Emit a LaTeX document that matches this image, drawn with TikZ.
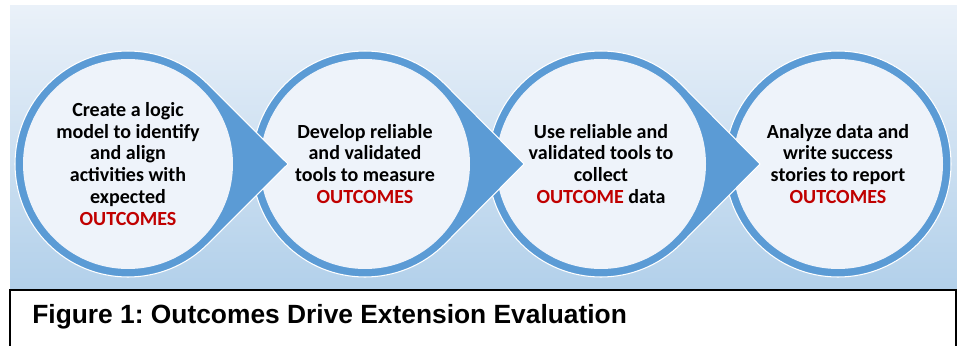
\documentclass[tikz,border=0pt]{standalone}
\usepackage{fontspec}
\setmainfont{Carlito}
\newfontfamily\capfont{Liberation Sans}
\usetikzlibrary{calc}
\definecolor{ringblue}{HTML}{5B9BD5}
\definecolor{innerfill}{HTML}{EEF3FA}
\definecolor{bgtop}{HTML}{EAF1F9}
\definecolor{bgbot}{HTML}{B2D0EA}
\definecolor{outred}{HTML}{C00000}
\tikzset{
    ringshape/.style = {fill=ringblue, draw=white, line width=0.6pt},
    innerdisc/.style = {fill=innerfill},
    steptext/.style = {align=center, inner sep=0pt, font=\bfseries\fontsize{11.4}{12.5}\selectfont, text=black},
    capbox/.style = {draw=black, fill=white, line width=0.8pt},
    captext/.style = {anchor=base west, inner sep=0pt, font=\capfont\bfseries\fontsize{15}{17}\selectfont, text=black}
}
\newcommand{\oc}[1]{\textcolor{outred}{#1}}
\frenchspacing

\begin{document}
\begin{tikzpicture}[x=0.02cm,y=0.02cm]
%
\useasboundingbox (0,0) rectangle (957,345);
\shade[top color=bgtop, bottom color=bgbot] (10,55) rectangle (957,339);
\draw[capbox] (10,-10) rectangle (956,55);
%
\coordinate (c1) at (128,181);
\coordinate (c2) at (365,181);
\coordinate (c3) at (601,181);
\coordinate (c4) at (838,181);
%
\path[ringshape] (c4) circle (113);
\fill[innerdisc] (c4) circle (105);
\path[ringshape] ($(c3)+(45:113)$) -- ($(c3)+(159,0)$) -- ($(c3)+(-45:113)$) arc[start angle=-45, end angle=-315, radius=113] -- cycle;
\fill[innerdisc] (c3) circle (105);
\path[ringshape] ($(c2)+(45:113)$) -- ($(c2)+(159,0)$) -- ($(c2)+(-45:113)$) arc[start angle=-45, end angle=-315, radius=113] -- cycle;
\fill[innerdisc] (c2) circle (105);
\path[ringshape] ($(c1)+(45:113)$) -- ($(c1)+(160,0)$) -- ($(c1)+(-45:113)$) arc[start angle=-45, end angle=-315, radius=113] -- cycle;
\fill[innerdisc] (c1) circle (105);
%
\node[steptext] (t1) at (c1) {Create a logic\\model to identify\\and align\\activities with\\expected\\\oc{OUTCOMES}};
\node[steptext] (t2) at (c2) {Develop reliable\\and validated\\tools to measure\\\oc{OUTCOMES}};
\node[steptext] (t3) at (c3) {Use reliable and\\validated tools to\\collect\\\oc{OUTCOME} data};
\node[steptext] (t4) at (c4) {Analyze data and\\write success\\stories to report\\\oc{OUTCOMES}};
%
\node[captext] (cap) at (32,22) {Figure 1: Outcomes Drive Extension Evaluation};

\end{tikzpicture}
\end{document}
